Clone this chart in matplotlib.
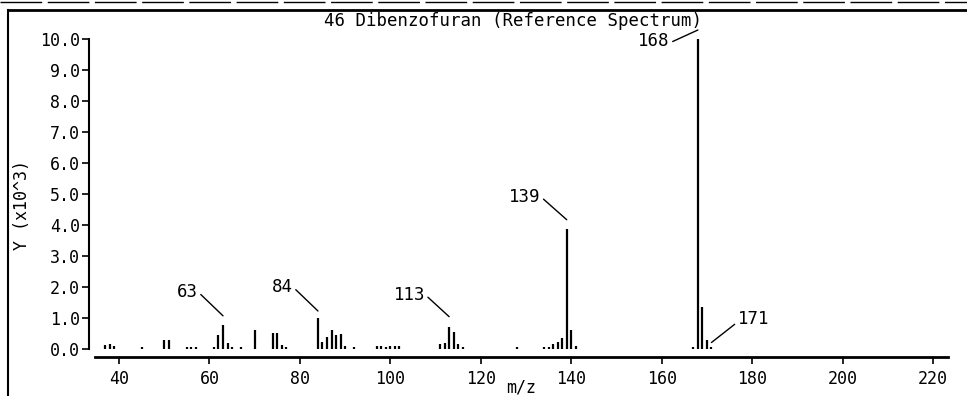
import matplotlib
matplotlib.use("Agg")
import matplotlib.pyplot as plt
import matplotlib.transforms as mtransforms
from matplotlib.lines import Line2D

TITLE = "46 Dibenzofuran (Reference Spectrum)"

# m/z and abundance (x10^3)
mz = [37, 38, 39, 45, 50, 51, 55, 56, 57, 61, 62, 63, 64, 65, 67, 70,
      74, 75, 76, 77, 84, 85, 86, 87, 88, 89, 90, 92,
      97, 98, 99, 100, 101, 102, 111, 112, 113, 114, 115, 116,
      128, 134, 135, 136, 137, 138, 139, 140, 141,
      167, 168, 169, 170, 171]
abund = [0.12, 0.15, 0.10, 0.05, 0.30, 0.30, 0.08, 0.08, 0.08, 0.08, 0.45, 0.78, 0.20, 0.06, 0.05, 0.62,
         0.52, 0.52, 0.12, 0.08, 1.00, 0.22, 0.40, 0.60, 0.45, 0.48, 0.10, 0.05,
         0.10, 0.10, 0.08, 0.10, 0.10, 0.10, 0.15, 0.20, 0.72, 0.55, 0.15, 0.08,
         0.06, 0.06, 0.06, 0.15, 0.22, 0.35, 3.88, 0.60, 0.10,
         0.08, 10.0, 1.35, 0.30, 0.08]

# labelled peaks: m/z, gap above peak (px), text offset (px), alignment, line anchor on text
labels = [
    (63, 9, -25, 24, "right", (1, 0.5)),
    (84, 7, -25, 24, "right", (1, 0.5)),
    (113, 10, -24, 22, "right", (1, 0.5)),
    (139, 9, -26, 23, "right", (1, 0.5)),
    (168, 9, -28, -11, "right", (1, 0.4)),
    (171, 4, 26, 24, "left", (0, 0.3)),
]

xticks = [40, 60, 80, 100, 120, 140, 160, 180, 200, 220]
yticks = [0, 1, 2, 3, 4, 5, 6, 7, 8, 9, 10]

W, H = 967, 396
plt.rcParams["font.family"] = "DejaVu Sans Mono"
fig = plt.figure(figsize=(W / 100, H / 100), dpi=100)
ax = fig.add_axes([95 / W, (H - 349) / H, (948 - 95) / W, (349 - 39) / H])

ax.vlines(mz, 0, abund, colors="black", linewidth=1.6)

ax.set_xlim(34.7, 223.3)
ax.set_ylim(0, 10)
ax.set_xticks(xticks)
ax.set_yticks(yticks)
ax.set_yticklabels([f"{v:.1f}" for v in yticks])
ax.tick_params(axis="both", direction="out", length=5, width=1.2, labelsize=12, color="black")
ax.tick_params(axis="y", pad=2)
ax.tick_params(axis="x", pad=4)

for s in ["top", "right"]:
    ax.spines[s].set_visible(False)
ax.spines["bottom"].set_position(("outward", 6))
ax.spines["left"].set_position(("outward", 4))
ax.spines["bottom"].set_linewidth(2.0)
ax.spines["left"].set_linewidth(1.5)

heights = dict(zip(mz, abund))
for m, gap, dx, dy, ha, rp in labels:
    tr = mtransforms.offset_copy(ax.transData, fig=fig, x=0, y=gap, units="dots")
    ax.annotate(str(m), xy=(m, heights[m]), xycoords=tr,
                xytext=(dx, dy), textcoords="offset pixels",
                ha=ha, va="center", fontsize=12.5,
                arrowprops=dict(arrowstyle="-", color="black", lw=1.0,
                                shrinkA=0, shrinkB=0, relpos=rp),
                annotation_clip=False)

fig.text(513 / W, (H - 21) / H, TITLE, ha="center", va="center", fontsize=12.5)
fig.text(22 / W, (H - 205) / H, "Y (x10^3)", rotation=90, ha="center", va="center", fontsize=12)
fig.text(521 / W, (H - 387) / H, "m/z", ha="center", va="center", fontsize=12)

# page frame
fig.add_artist(Line2D([8 / W, 1], [(H - 10) / H] * 2, transform=fig.transFigure, color="black", lw=2))
fig.add_artist(Line2D([8 / W, 8 / W], [0, (H - 10) / H], transform=fig.transFigure, color="black", lw=1.5))
fig.add_artist(Line2D([0, 1], [(H - 2) / H] * 2, transform=fig.transFigure, color="black", lw=1, ls=(0, (30, 4))))

fig.savefig("out.png", dpi=100)
